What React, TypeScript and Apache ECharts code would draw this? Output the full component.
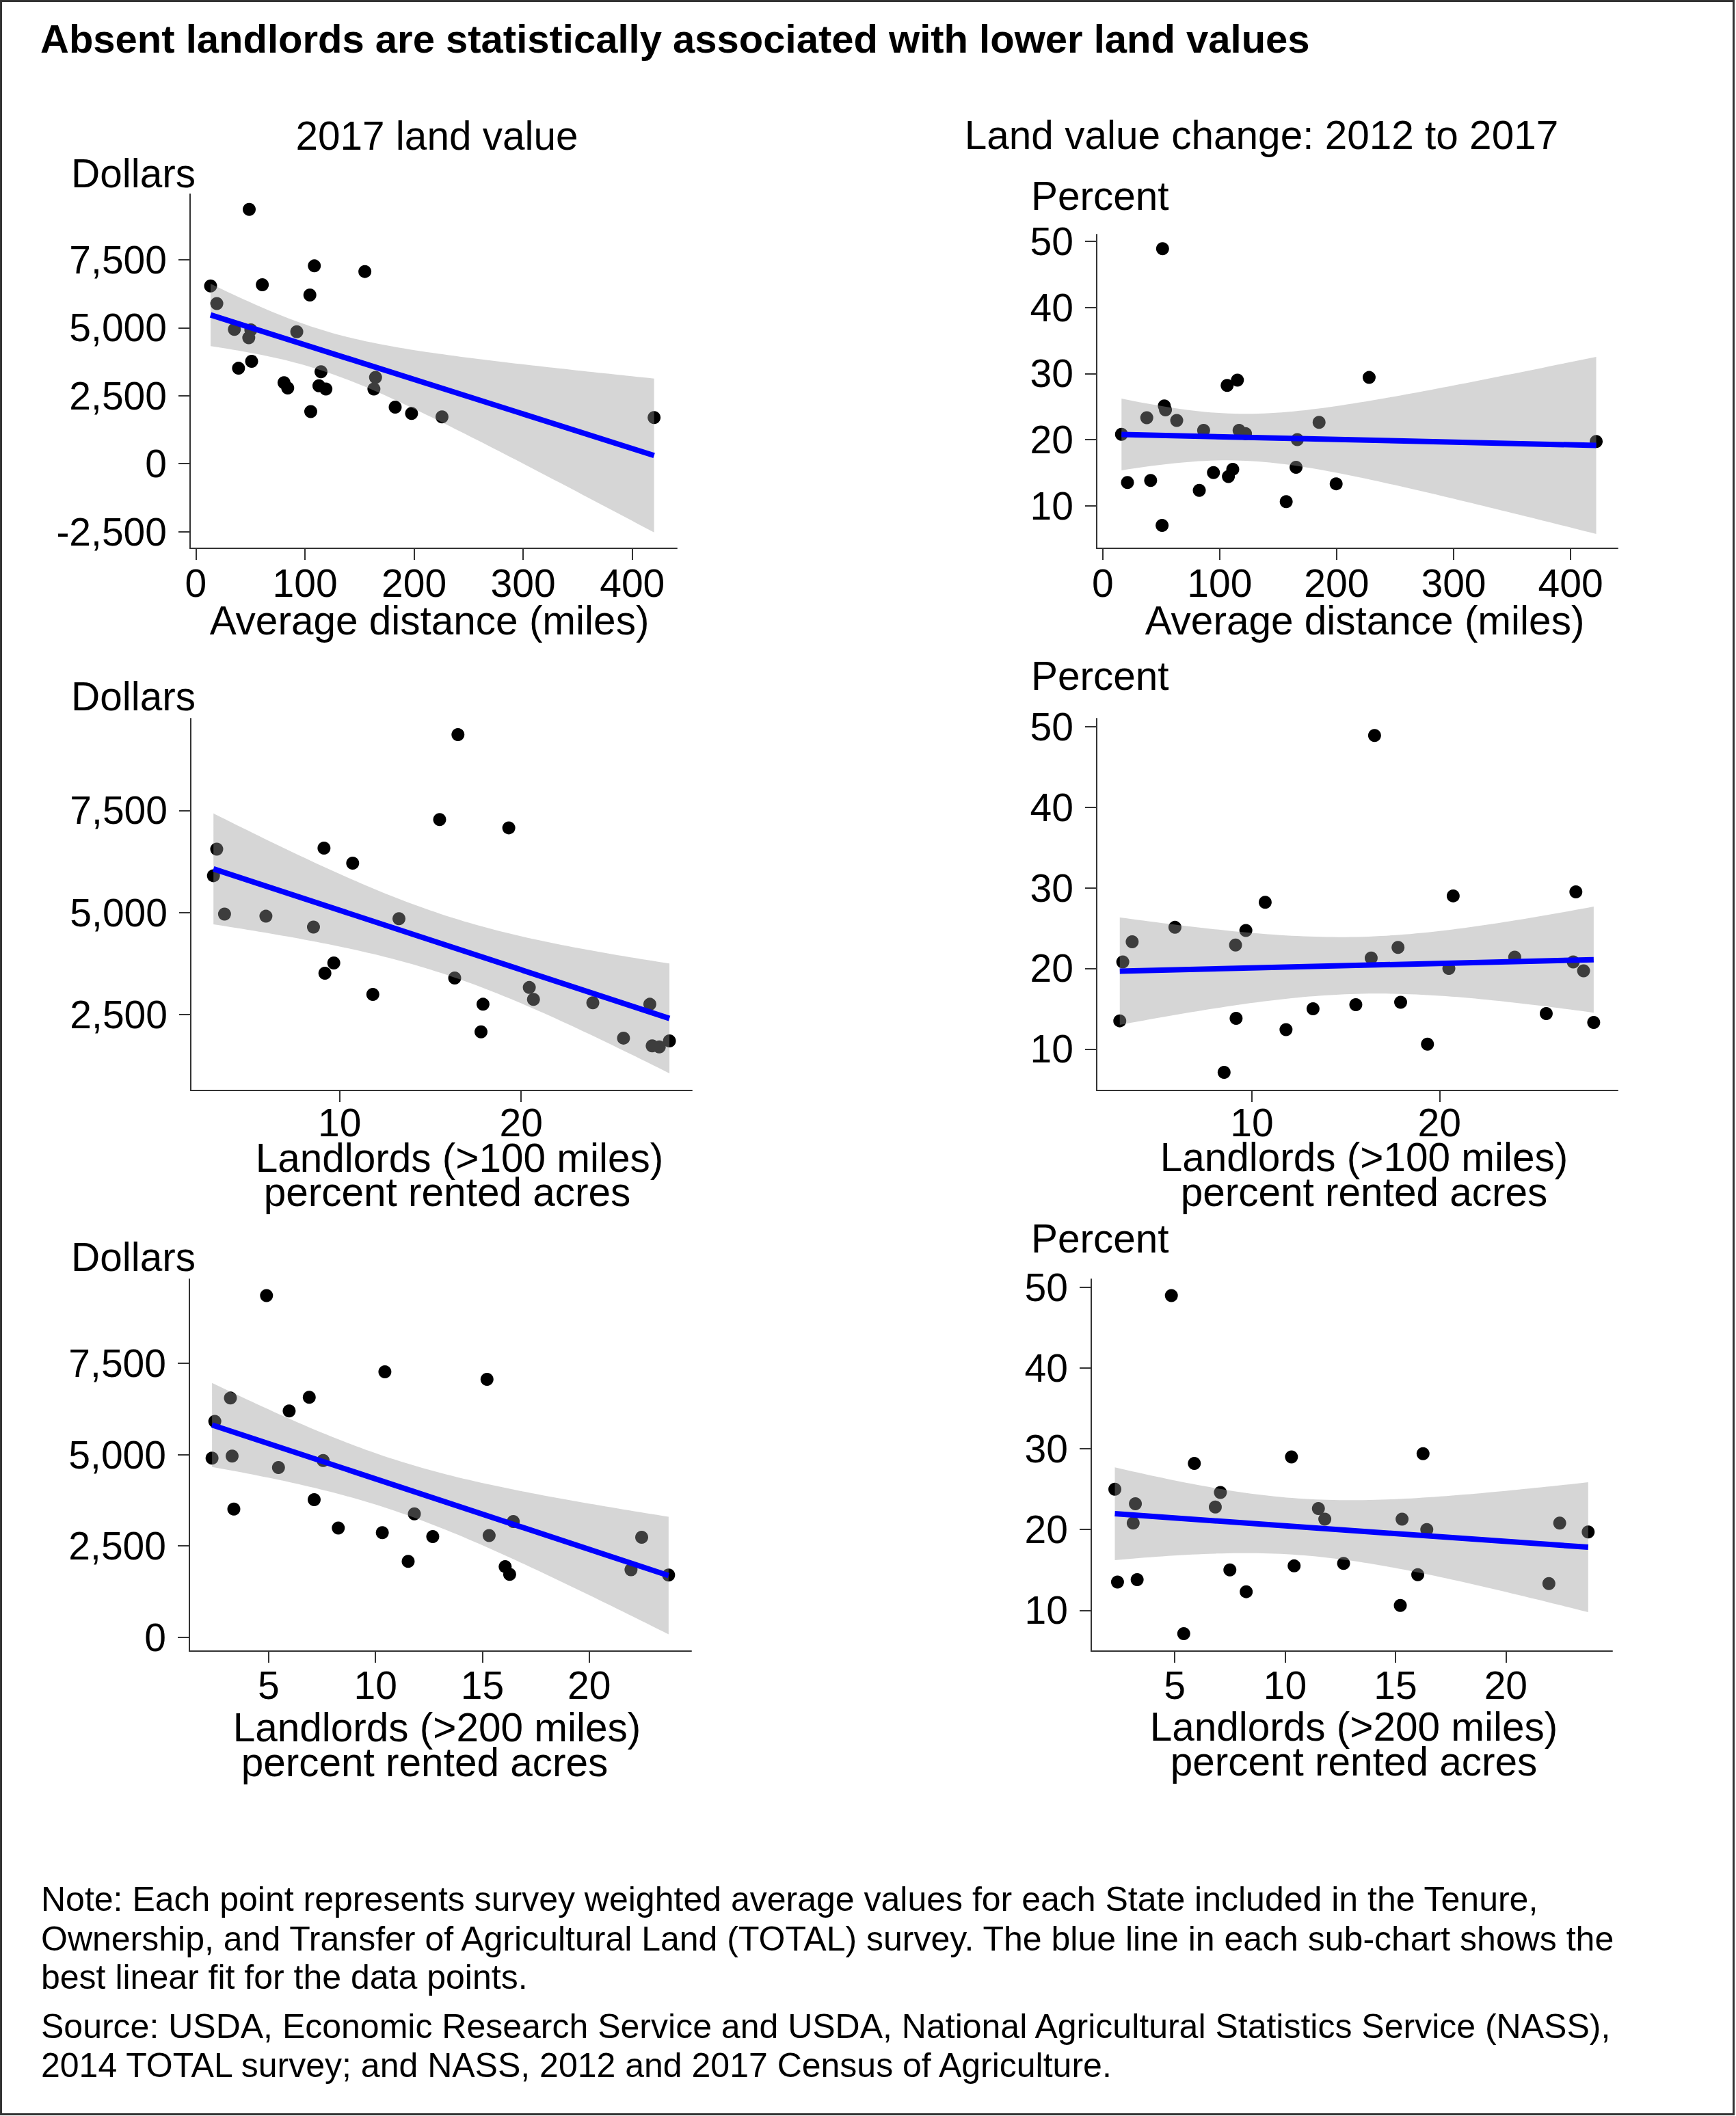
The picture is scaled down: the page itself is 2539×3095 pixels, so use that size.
import React, { useEffect, useRef } from "react";
import * as echarts from "echarts";

// ---------- data ----------
// Panel 1: 2017 land value (dollars) vs average landlord distance (miles)
const p1Distance = [13.5, 19.2, 48.9, 60.9, 35.3, 50.4, 48.5, 51.1, 39.1, 92.5, 108.6, 104.5, 154.9, 80.8, 84.2, 114.7, 112.8, 119.2, 105.3, 164.7, 163.2, 182.7, 197.7, 225.6, 420];
const p1Value = [6536, 5889, 9353, 6582, 4942, 4919, 4630, 3764, 3510, 4850, 7275, 6201, 7067, 2979, 2783, 3383, 2864, 2748, 1917, 3176, 2748, 2079, 1848, 1721, 1697];

// Panel 2: land value change 2012-2017 (percent) vs average distance (miles)
const p2Distance = [16.1, 21.2, 51.2, 37.7, 41.0, 52.7, 53.7, 63.3, 50.8, 86.3, 82.6, 94.7, 106.4, 115.2, 111.2, 107.5, 116.6, 122.1, 156.9, 166.4, 165.3, 185.0, 199.6, 227.8, 421.9];
const p2Change = [20.8, 13.5, 48.9, 23.3, 13.8, 25.1, 24.5, 22.9, 7.0, 21.4, 12.3, 15.0, 28.2, 29.0, 15.5, 14.4, 21.4, 20.9, 10.6, 20.0, 15.8, 22.6, 13.3, 29.4, 19.7];

// Panel 3: 2017 land value vs landlords >100 miles (percent rented acres)
const p3Rent100 = [3.23, 3.05, 3.66, 5.94, 8.56, 9.14, 10.72, 9.68, 9.19, 11.83, 13.27, 15.51, 16.52, 16.34, 17.9, 17.79, 19.32, 20.45, 20.68, 23.95, 25.64, 27.09, 27.22, 27.61, 28.17];
const p3Value = [6550, 5899, 4957, 4906, 4640, 6575, 6207, 3759, 3510, 2988, 4846, 7277, 9358, 3390, 2748, 2072, 7072, 3159, 2868, 2783, 1918, 2748, 1729, 1704, 1849];

// Panel 4: land value change vs landlords >100 miles
const p4Rent100 = [3.12, 3.62, 2.96, 5.9, 9.13, 9.68, 10.71, 9.16, 8.52, 11.82, 13.26, 15.54, 16.36, 16.54, 17.79, 17.93, 19.36, 20.5, 20.73, 24.01, 25.69, 27.13, 27.27, 27.68, 28.22];
const p4Change = [20.8, 23.3, 13.5, 25.1, 22.9, 24.7, 28.2, 13.8, 7.1, 12.4, 15.0, 15.5, 21.3, 48.9, 22.6, 15.8, 10.6, 20.0, 29.0, 21.4, 14.4, 20.8, 29.5, 19.7, 13.3];

// Panel 5: 2017 land value vs landlords >200 miles
const p5Rent200 = [2.35, 2.48, 3.21, 3.29, 3.37, 4.9, 5.46, 5.96, 6.9, 7.13, 7.55, 8.26, 10.32, 10.44, 11.53, 11.82, 12.68, 15.22, 15.32, 16.07, 16.28, 16.45, 21.96, 22.46, 23.72];
const p5Value = [4904, 5909, 6550, 4962, 3507, 9356, 4646, 6196, 6569, 3766, 4837, 2988, 2861, 7270, 2076, 3377, 2755, 7061, 2784, 1933, 1722, 3167, 1847, 2737, 1703];

// Panel 6: land value change vs landlords >200 miles
const p6Rent200 = [2.29, 2.41, 3.22, 3.12, 3.3, 4.85, 5.41, 5.89, 6.84, 7.07, 7.5, 8.24, 10.29, 10.41, 11.51, 11.8, 12.65, 15.22, 15.3, 16.01, 16.25, 16.42, 21.95, 22.44, 23.73];
const p6Change = [25.0, 13.5, 23.2, 20.8, 13.8, 49.0, 7.1, 28.2, 22.8, 24.6, 15.0, 12.3, 29.0, 15.5, 22.6, 21.3, 15.8, 10.6, 21.3, 14.4, 29.4, 20.0, 13.3, 20.8, 19.7];

// tick labels
const distanceTicks = [0, 100, 200, 300, 400];
const rent100Ticks = [10, 20];
const rent200Ticks = [5, 10, 15, 20];
const dollarTicksTop = [-2500, 0, 2500, 5000, 7500];
const dollarTicksMid = [2500, 5000, 7500];
const dollarTicksBottom = [0, 2500, 5000, 7500];
const percentTicks = [10, 20, 30, 40, 50];

// texts
const mainTitle = "Absent landlords are statistically associated with lower land values";
const columnTitles = ["2017 land value", "Land value change: 2012 to 2017"];
const noteLines = [
  "Note: Each point represents survey weighted average values for each State included in the Tenure,",
  "Ownership, and Transfer of Agricultural Land (TOTAL) survey. The blue line in each sub-chart shows the",
  "best linear fit for the data points.",
];
const sourceLines = [
  "Source: USDA, Economic Research Service and USDA, National Agricultural Statistics Service (NASS),",
  "2014 TOTAL survey; and NASS, 2012 and 2017 Census of Agriculture.",
];

// Student t 0.975 quantile, 23 degrees of freedom (25 States - 2)
const T975 = 2.069;

const FONT = "'Liberation Sans', Arial, Helvetica, sans-serif";

function linearFit(xs: number[], ys: number[]) {
  const n = xs.length;
  const mx = xs.reduce((a, b) => a + b, 0) / n;
  const my = ys.reduce((a, b) => a + b, 0) / n;
  let sxx = 0;
  let sxy = 0;
  for (let i = 0; i < n; i++) {
    sxx += (xs[i] - mx) * (xs[i] - mx);
    sxy += (xs[i] - mx) * (ys[i] - my);
  }
  const b = sxy / sxx;
  const a = my - b * mx;
  let sse = 0;
  for (let i = 0; i < n; i++) {
    const r = ys[i] - (a + b * xs[i]);
    sse += r * r;
  }
  const s = Math.sqrt(sse / (n - 2));
  const x0 = Math.min(...xs);
  const x1 = Math.max(...xs);
  const band: number[][] = [];
  const steps = 80;
  for (let k = 0; k <= steps; k++) {
    const x = x0 + ((x1 - x0) * k) / steps;
    const se = s * Math.sqrt(1 / n + ((x - mx) * (x - mx)) / sxx);
    const yhat = a + b * x;
    band.push([x, yhat - T975 * se, yhat + T975 * se]);
  }
  const line = [
    [x0, a + b * x0],
    [x1, a + b * x1],
  ];
  return { band, line };
}

type PanelDef = {
  xs: number[];
  ys: number[];
  grid: { left: number; top: number; width: number; height: number };
  xMin: number;
  xMax: number;
  yMin: number;
  yMax: number;
  xTicks: number[];
  yTicks: number[];
  xLabelMargin: number;
};

const panels: PanelDef[] = [
  { xs: p1Distance, ys: p1Value, grid: { left: 278, top: 284, width: 712, height: 518 }, xMin: -5.3, xMax: 440.9, yMin: -3111, yMax: 9911, xTicks: distanceTicks, yTicks: dollarTicksTop, xLabelMargin: 31 },
  { xs: p2Distance, ys: p2Change, grid: { left: 1604, top: 343, width: 762, height: 459 }, xMin: -5.1, xMax: 440.3, yMin: 3.53, yMax: 51.05, xTicks: distanceTicks, yTicks: percentTicks, xLabelMargin: 31 },
  { xs: p3Rent100, ys: p3Value, grid: { left: 279, top: 1051, width: 733, height: 544 }, xMin: 1.8, xMax: 29.41, yMin: 634, yMax: 9752, xTicks: rent100Ticks, yTicks: dollarTicksMid, xLabelMargin: 27 },
  { xs: p4Rent100, ys: p4Change, grid: { left: 1604, top: 1051, width: 762, height: 544 }, xMin: 1.73, xMax: 29.5, yMin: 4.86, yMax: 51.0, xTicks: rent100Ticks, yTicks: percentTicks, xLabelMargin: 27 },
  { xs: p5Rent200, ys: p5Value, grid: { left: 277, top: 1871, width: 734, height: 544 }, xMin: 1.29, xMax: 24.78, yMin: -382, yMax: 9806, xTicks: rent200Ticks, yTicks: dollarTicksBottom, xLabelMargin: 30 },
  { xs: p6Rent200, ys: p6Change, grid: { left: 1596, top: 1871, width: 762, height: 544 }, xMin: 1.22, xMax: 24.82, yMin: 4.94, yMax: 51.03, xTicks: rent200Ticks, yTicks: percentTicks, xLabelMargin: 30 },
];

function txt(text: string, x: number, baseline: number, size: number, align: string, weight: string = "normal") {
  return {
    type: "text",
    x,
    y: baseline - 0.35 * size,
    silent: true,
    style: {
      text,
      fill: "#000",
      fontSize: size,
      fontFamily: FONT,
      fontWeight: weight,
      lineHeight: Math.round(size * 0.7),
      align,
      textAlign: align,
      verticalAlign: "middle",
      textVerticalAlign: "middle",
    },
  };
}

const fmtNum = (v: number) => v.toLocaleString("en-US");

function buildOption() {
  const axisColor = "#333";
  const TICK_FS = 57;
  const grids: any[] = [];
  const xAxes: any[] = [];
  const yAxes: any[] = [];
  const series: any[] = [];

  panels.forEach((p, i) => {
    grids.push({ ...p.grid, containLabel: false });
    xAxes.push({
      type: "value",
      gridIndex: i,
      min: p.xMin,
      max: p.xMax,
      splitLine: { show: false },
      axisLine: { show: true, onZero: false, lineStyle: { color: axisColor, width: 2 } },
      axisTick: { show: true, length: 17, customValues: p.xTicks, lineStyle: { color: axisColor, width: 2 } },
      axisLabel: { customValues: p.xTicks, margin: p.xLabelMargin, lineHeight: 40, fontSize: TICK_FS, color: "#000", fontFamily: FONT, formatter: (v: number) => fmtNum(v) },
    });
    yAxes.push({
      type: "value",
      gridIndex: i,
      min: p.yMin,
      max: p.yMax,
      splitLine: { show: false },
      axisLine: { show: true, onZero: false, lineStyle: { color: axisColor, width: 2 } },
      axisTick: { show: true, length: 17, customValues: p.yTicks, lineStyle: { color: axisColor, width: 2 } },
      axisLabel: { customValues: p.yTicks, margin: 34, lineHeight: 40, fontSize: TICK_FS, color: "#000", fontFamily: FONT, formatter: (v: number) => fmtNum(v) },
    });

    const { band, line } = linearFit(p.xs, p.ys);

    series.push({
      type: "scatter",
      xAxisIndex: i,
      yAxisIndex: i,
      data: p.xs.map((x, k) => [x, p.ys[k]]),
      symbolSize: 19,
      itemStyle: { color: "#000", opacity: 1 },
      silent: true,
      z: 2,
    });
    series.push({
      type: "custom",
      xAxisIndex: i,
      yAxisIndex: i,
      data: band,
      encode: { x: 0, y: [1, 2] },
      silent: true,
      z: 3,
      renderItem: (params: any, api: any) => {
        if (params.dataIndex !== 0) return null;
        const upper = band.map((d) => api.coord([d[0], d[2]]));
        const lower = band
          .slice()
          .reverse()
          .map((d) => api.coord([d[0], d[1]]));
        return {
          type: "polygon",
          shape: { points: upper.concat(lower) },
          style: { fill: "rgba(153,153,153,0.4)", stroke: "none" },
        };
      },
    });
    series.push({
      type: "line",
      xAxisIndex: i,
      yAxisIndex: i,
      data: line,
      showSymbol: false,
      symbol: "none",
      lineStyle: { color: "#0000ff", width: 8, cap: "butt" },
      silent: true,
      z: 4,
    });
  });

  const PS = 58.5;
  const graphics: any[] = [
    {
      type: "rect",
      silent: true,
      shape: { x: 1.5, y: 1.5, width: 2534, height: 3091 },
      style: { fill: "none", stroke: "#333", lineWidth: 3 },
    },
    txt(mainTitle, 59, 77, 58, "left", "bold"),
    txt(columnTitles[0], 639, 219, PS, "center"),
    txt(columnTitles[1], 1845, 218, PS, "center"),
    txt("Dollars", 104, 274, PS, "left"),
    txt("Dollars", 104, 1039, PS, "left"),
    txt("Dollars", 104, 1859, PS, "left"),
    txt("Percent", 1508, 307, PS, "left"),
    txt("Percent", 1508, 1009, PS, "left"),
    txt("Percent", 1508, 1832, PS, "left"),
    txt("Average distance (miles)", 628, 928, PS, "center"),
    txt("Average distance (miles)", 1996, 928, PS, "center"),
    txt("Landlords (>100 miles)", 672, 1714, PS, "center"),
    txt("percent rented acres", 654, 1764, PS, "center"),
    txt("Landlords (>100 miles)", 1995, 1713, PS, "center"),
    txt("percent rented acres", 1995, 1764, PS, "center"),
    txt("Landlords (>200 miles)", 639, 2547, PS, "center"),
    txt("percent rented acres", 621, 2598, PS, "center"),
    txt("Landlords (>200 miles)", 1980, 2546, PS, "center"),
    txt("percent rented acres", 1980, 2597, PS, "center"),
  ];
  const noteBaselines = [2795, 2853, 2909];
  noteLines.forEach((l, k) => graphics.push(txt(l, 60, noteBaselines[k], 50, "left")));
  const sourceBaselines = [2981, 3038];
  sourceLines.forEach((l, k) => graphics.push(txt(l, 60, sourceBaselines[k], 50, "left")));

  return {
    animation: false,
    backgroundColor: "#ffffff",
    grid: grids,
    xAxis: xAxes,
    yAxis: yAxes,
    series,
    graphic: { elements: graphics },
  };
}

export default function App() {
  const ref = useRef<HTMLDivElement>(null);
  useEffect(() => {
    if (!ref.current) return;
    const chart = echarts.init(ref.current, undefined, { renderer: "svg", width: 2539, height: 3095 });
    chart.setOption(buildOption() as any);
    return () => {
      chart.dispose();
    };
  }, []);
  return (
    <div
      ref={ref}
      style={{ position: "absolute", left: 0, top: 0, width: 2539, height: 3095, background: "#fff" }}
    />
  );
}
